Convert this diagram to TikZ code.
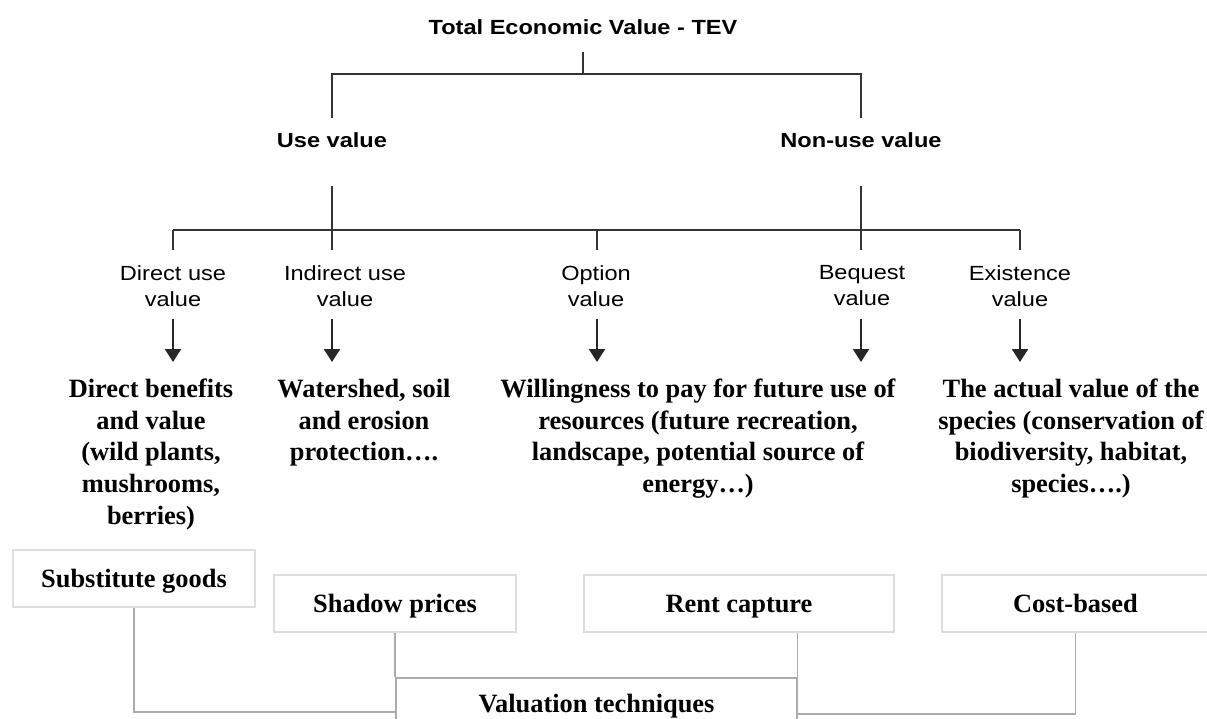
\documentclass[tikz,border=0pt]{standalone}
\usepackage{fontspec}
\setmainfont{Liberation Serif}
\newfontfamily\labsans[FakeStretch=1.15]{Liberation Sans}
\usetikzlibrary{arrows.meta}

\begin{document}
\begin{tikzpicture}[x=1pt,y=-1pt,>={Triangle[length=13pt,width=16pt]},
    mainlbl/.style={font={\labsans\bfseries\fontsize{20.5}{24}\selectfont},inner sep=0pt,anchor=base},
    kindlbl/.style={font={\labsans\fontsize{20.5}{26}\selectfont},align=center,inner sep=0pt,anchor=north},
    desclbl/.style={font={\bfseries\fontsize{26.4}{31.6}\selectfont},align=center,inner sep=0pt,anchor=north},
    techbox/.style={draw=black!13,line width=1.3pt,font={\bfseries\fontsize{26.4}{31.6}\selectfont},inner sep=0pt,text height=17.5pt,text depth=0pt,minimum height=57pt},
    treeline/.style={draw=black!80,line width=2pt},
    arrline/.style={draw=black!85,line width=1.8pt,shorten <=13pt,shorten >=17pt},
    techline/.style={draw=black!33,line width=1.3pt}]
    \useasboundingbox (0,0) rectangle (1207,718);
    \clip (0,0) rectangle (1207,718);

            \node[mainlbl] (tev) at (583,34) {Total Economic Value - TEV};
            \node[mainlbl] (use) at (332,147) {Use value};
            \node[mainlbl] (nonuse) at (861,147) {Non-use value};

            \coordinate (topbar) at (583,74);
            \coordinate (c1) at (173,230);
            \coordinate (c2) at (332,230);
            \coordinate (c3) at (597,230);
            \coordinate (c4) at (861,230);
            \coordinate (c5) at (1020,230);

            \node[kindlbl] (dir) at (173,265) {Direct use\\value};
            \node[kindlbl] (indir) at (345,265) {Indirect use\\value};
            \node[kindlbl] (opt) at (596,265) {Option\\value};
            \node[kindlbl] (beq) at (862,265) {Bequest\\value};
            \node[kindlbl] (exist) at (1020,265) {Existence\\value};

            \node[desclbl] (benef) at (151,379) {Direct benefits\\and value\\(wild plants,\\mushrooms,\\berries)};
            \node[desclbl] (water) at (364,379) {Watershed, soil\\and erosion\\protection….};
            \node[desclbl] (will) at (698,379) {Willingness to pay for future use of\\resources (future recreation,\\landscape, potential source of\\energy…)};
            \node[desclbl] (actual) at (1071,379) {The actual value of the\\species (conservation of\\biodiversity, habitat,\\species….)};

            \node[techbox,minimum width=242pt] (subst) at (134,578.5) {Substitute goods};
            \node[techbox,minimum width=242pt] (shadow) at (395,603.5) {Shadow prices};
            \node[techbox,minimum width=310pt] (rent) at (739,603.5) {Rent capture};
            \node[techbox,minimum width=267pt] (cost) at (1075.5,603.5) {Cost-based};
            \node[techbox,draw=black!33,text depth=6pt,minimum width=401pt,minimum height=58pt] (valu) at (596.5,707) {Valuation techniques};

            \draw[treeline] ([yshift=-18pt]tev.base) -- (topbar);
            \draw[treeline] ([yshift=29pt]use.base) |- (topbar) -| ([yshift=29pt]nonuse.base);
            \draw[treeline] ([yshift=-39pt]use.base) -- (use.base |- c2);
            \draw[treeline] ([yshift=-39pt]nonuse.base) -- (nonuse.base |- c4);
            \draw[treeline] (c1) -- (c5);
            \foreach \c in {c1,c2,c3,c4,c5}
                \draw[treeline] (\c) -- ++(0,20);

            \draw[->,arrline] (c1 |- dir.south) -- (c1 |- benef.north);
            \draw[->,arrline] (c2 |- indir.south) -- (c2 |- water.north);
            \draw[->,arrline] (c3 |- opt.south) -- (c3 |- will.north);
            \draw[->,arrline] (c4 |- beq.south) -- (c4 |- will.north);
            \draw[->,arrline] (c5 |- exist.south) -- (c5 |- actual.north);

            \draw[techline] (subst.south) |- ([yshift=-5pt]valu.west);
            \draw[techline] (shadow.south) -- (shadow.south |- valu.north);
            \draw[techline] (valu.north east) -- (valu.north east |- rent.south);
            \draw[techline] (cost.south) |- ([yshift=-7pt]valu.east);
        \end{tikzpicture}
\end{document}
